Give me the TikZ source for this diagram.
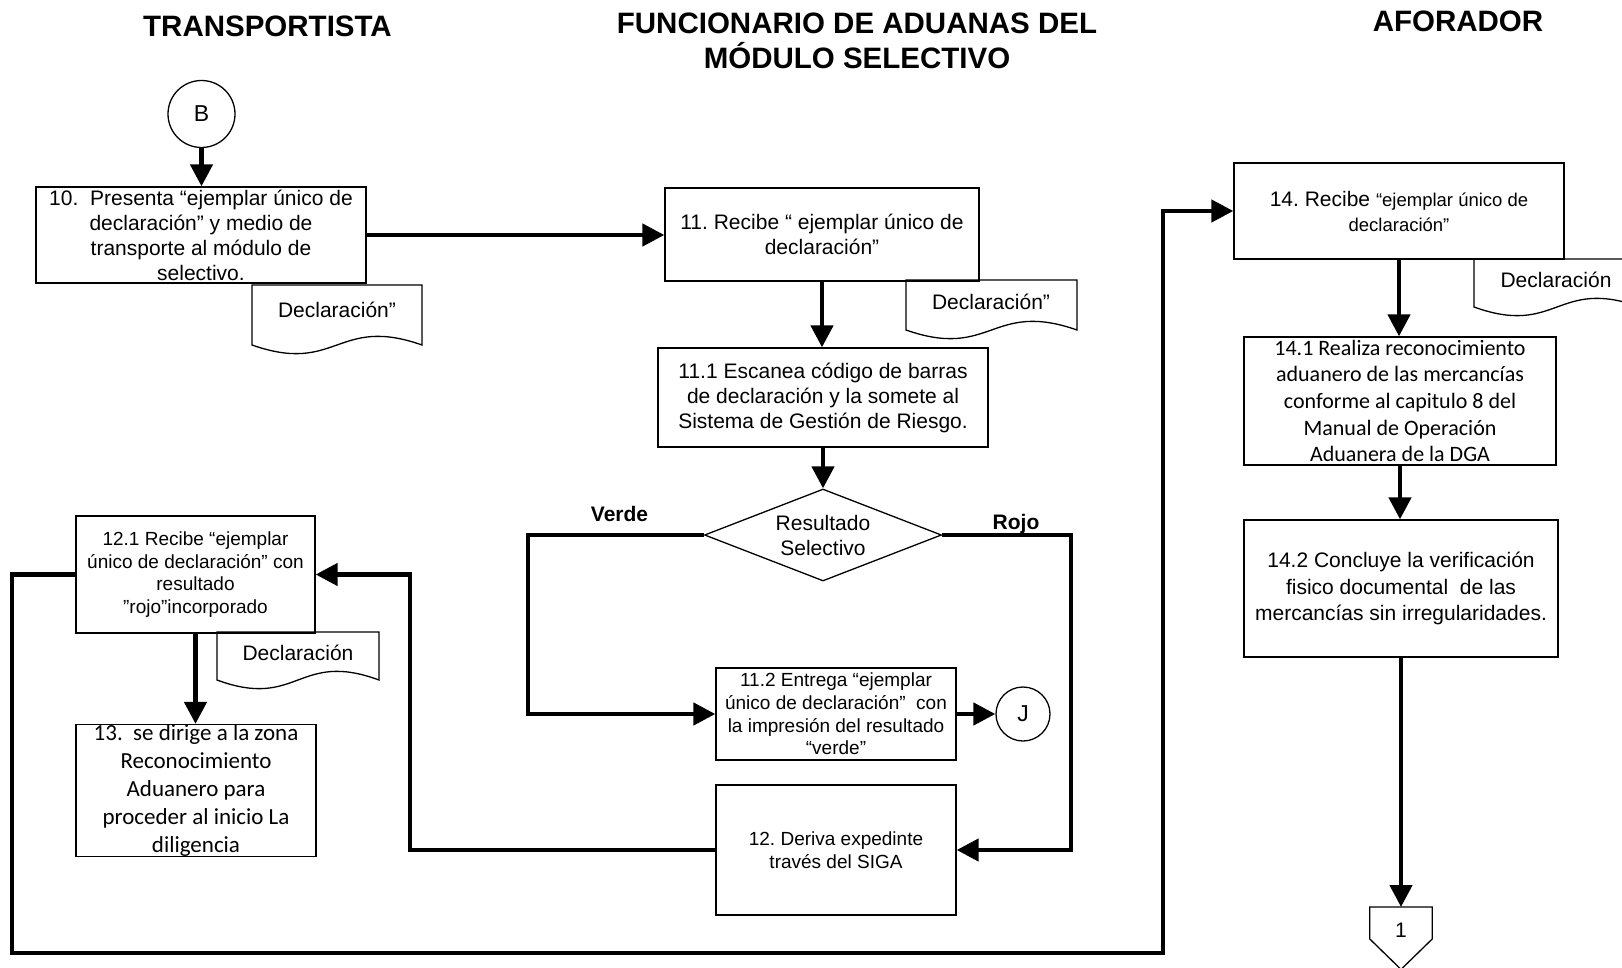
\documentclass[tikz,border=0pt]{standalone}
\usepackage{fontspec}
\setmainfont{Liberation Sans}
\newfontfamily\calfont{Carlito}
\usetikzlibrary{arrows.meta,shapes.geometric,calc}
\frenchspacing
\newcommand\fntA{\fontsize{21}{25}\selectfont}
\newcommand\fntAA{\fontsize{21}{26.5}\selectfont}
\newcommand\fntB{\fontsize{19}{22.7}\selectfont}
\newcommand\fntS{\fontsize{18.5}{24.5}\selectfont}
\newcommand\fntC{\calfont\fontsize{22}{26.7}\selectfont}
\newcommand\fntD{\calfont\fontsize{23}{28}\selectfont}
\newcommand\fntH{\bfseries\fontsize{29.5}{35}\selectfont}
\newcommand\fntL{\bfseries\fontsize{21}{25}\selectfont}
\newcommand\fntO{\fontsize{23}{27}\selectfont}
\newcommand\docpath[4]{%
  \draw[docshape] (#1,#4) -- (#1,#2) -- (#3,#2) -- (#3,#4)
    .. controls ({(#1+#3)/2},#4-30) and ({(#1+#3)/2},#4+30) .. (#1,#4) -- cycle;}
\begin{document}
\begin{tikzpicture}[x=1pt,y=-1pt,
  box/.style={draw, line width=1.3pt, rectangle, inner sep=0pt, align=center},
  conn/.style={line width=4.5pt, -{Triangle[length=22pt,width=22pt]}},
  docshape/.style={draw, line width=1.3pt, fill=white},
  ring/.style={circle, draw, line width=1.3pt, inner sep=0pt, font=\fntO},
  hdr/.style={font=\fntH, anchor=base},
  lbl/.style={font=\fntL, anchor=base}]
\useasboundingbox (0,0) rectangle (1622,968);
\clip (0,0) rectangle (1622,968);

% headers
\node[hdr] (h1) at (267.5,37) {TRANSPORTISTA};
\node[font=\fntH, align=center] (h2) at (857,40.5) {FUNCIONARIO DE ADUANAS DEL\\MÓDULO SELECTIVO};
\node[hdr] (h3) at (1458,32) {AFORADOR};

% documents
\docpath{252}{285}{422}{345}
\node[font=\fntA] (d10) at (337,310) {Declaración”};
\docpath{906}{280}{1077}{330}
\node[font=\fntA] (d11) at (991,302) {Declaración”};
\docpath{217}{632}{379}{680}
\node[font=\fntA] (d121) at (298,653) {Declaración};
\docpath{1474}{259}{1640}{307}
\node[font=\fntA] (d14) at (1556,280) {Declaración};

% nodes
\node[ring, minimum size=67pt] (B) at (201.5,114) {B};
\node[box, minimum width=330pt, minimum height=96pt, font=\fntA] (b10) at (201,235)
  {10.\ \ Presenta “ejemplar único de\\declaración” y medio de\\transporte al módulo de\\selectivo.};
\node[box, minimum width=314pt, minimum height=93pt, font=\fntA] (b11) at (822,234.5)
  {11. Recibe “ ejemplar único de\\declaración”};
\node[box, minimum width=330pt, minimum height=99pt, font=\fntA] (b111) at (823,397.5)
  {11.1 Escanea código de barras\\de declaración y la somete al\\Sistema de Gestión de Riesgo.};
\node[diamond, draw, line width=1.3pt, aspect=2.576, minimum width=237pt, minimum height=92pt,
  inner sep=0pt, align=center, font=\fntA] (dia) at (823,535) {Resultado\\Selectivo};
\node[lbl] (verde) at (619.5,521) {Verde};
\node[lbl] (rojo) at (1016,529) {Rojo};
\node[box, minimum width=240pt, minimum height=92pt, font=\fntB] (b112) at (836,714)
  {11.2 Entrega “ejemplar\\único de declaración”\ \ con\\la impresión del resultado\\“verde”};
\node[ring, minimum size=54pt] (J) at (1023,714) {J};
\node[box, minimum width=240pt, minimum height=130pt, font=\fntB] (b12) at (836,850)
  {12. Deriva expedinte\\través del SIGA};
\node[box, minimum width=239pt, minimum height=117pt, font=\fntB] (b121) at (195.5,574.5)
  {12.1 Recibe “ejemplar\\único de declaración” con\\resultado\\”rojo”incorporado};
\node[box, minimum width=240pt, minimum height=127pt, font=\fntD] (b13) at (196,790.5)
  {13.\ \ se dirige a la zona\\Reconocimiento\\Aduanero para\\proceder al inicio La\\diligencia};
\node[box, minimum width=330pt, minimum height=96pt, font=\fntA] (b14) at (1399,211)
  {14. Recibe {\fntS “ejemplar único de}\\{\fntS declaración”}};
\node[box, minimum width=312pt, minimum height=128pt, font=\fntC] (b141) at (1400,401)
  {14.1 Realiza reconocimiento\\aduanero de las mercancías\\conforme al capitulo 8 del\\Manual de Operación\\Aduanera de la DGA};
\node[box, minimum width=314pt, minimum height=137pt, font=\fntAA] (b142) at (1401,588.5)
  {14.2 Concluye la verificación\\fisico documental\ \ de las\\mercancías sin irregularidades.};
\node[inner sep=0pt, minimum width=62pt, minimum height=62pt, anchor=north] (off1) at (1401,907) {};
\draw[line width=1.3pt] (off1.north west) -- (off1.north east) -- ($(off1.north east)+(0,32)$)
  -- (off1.south) -- ($(off1.north west)+(0,32)$) -- cycle;
\node[font=\fntA] (one) at (1401,930) {1};

% helper coordinates
\coordinate (vl) at (528,535);
\coordinate (rl) at (1071,535);
\coordinate (ll) at (410,850);
\coordinate (lp1) at (12,574.5);
\coordinate (lp2) at (12,953);
\coordinate (lp3) at (1163,953);

% connectors
\draw[conn] (B.south) -- (B.south |- b10.north);
\draw[conn] (b10.east) -- (b10.east -| b11.west);
\draw[conn] (b11.south) -- (b11.south |- b111.north);
\draw[conn] (b111.south) -- (dia.north);
\draw[conn] (dia.west) -- (vl) |- (b112.west);
\draw[conn] (dia.east) -- (rl) |- (b12.east);
\draw[conn] (b112.east) -- (J.west);
\draw[conn] (b12.west) -- (ll) |- (b121.east);
\draw[conn] (b121.south) -- (b121.south |- b13.north);
\draw[conn] (b121.west) -- (lp1) -- (lp2) -- (lp3) |- (b14.west);
\draw[conn] (b14.south) -- (b14.south |- b141.north);
\draw[conn] (b141.south) -- (b141.south |- b142.north);
\draw[conn] (b142.south) -- (b142.south |- off1.north);
\end{tikzpicture}
\end{document}
